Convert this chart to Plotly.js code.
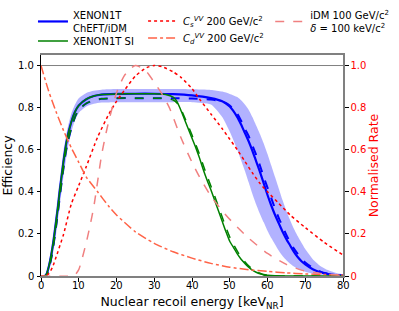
<!DOCTYPE html>
<html><head><meta charset="utf-8">
<script src="https://cdn.plot.ly/plotly-3.0.1.min.js"></script>
<style>html,body{margin:0;padding:0;background:#fff}#chart{width:399px;height:311px}</style>
</head><body><div id="chart"></div>
<script>
// Efficiency curves (XENON1T SI)
const E_si = [0,1,1.5,2,2.5,3,3.5,4,4.5,5,5.5,6,6.5,7,8,9,10,12,14,16,20,25,30,33,35,36,37,38,39,40,41,42,43,44,45,46,47,48,49,50,51,52,53,54,55,56,57,58,59,60,62,65,70,80];
const si_solid = [0,0,0.01,0.04,0.08,0.13,0.19,0.26,0.33,0.41,0.48,0.55,0.61,0.66,0.73,0.78,0.81,0.84,0.855,0.862,0.865,0.866,0.866,0.862,0.85,0.83,0.79,0.745,0.70,0.655,0.61,0.56,0.505,0.455,0.41,0.36,0.31,0.26,0.21,0.165,0.135,0.105,0.08,0.06,0.042,0.028,0.018,0.01,0.005,0.003,0.001,0,0,0];
const si_dashed = [0,0,0.005,0.03,0.065,0.11,0.17,0.235,0.305,0.38,0.45,0.52,0.58,0.63,0.70,0.755,0.79,0.82,0.835,0.842,0.845,0.845,0.845,0.843,0.836,0.822,0.795,0.755,0.713,0.67,0.625,0.577,0.525,0.475,0.428,0.38,0.33,0.28,0.23,0.185,0.15,0.118,0.09,0.068,0.048,0.033,0.022,0.013,0.007,0.004,0.001,0,0,0];

// Efficiency curves (XENON1T ChEFT/iDM)
const E_cheft = [0,1,1.5,2,2.5,3,3.5,4,4.5,5,5.5,6,6.5,7,8,9,10,12,14,16,20,25,30,35,40,45,48,50,52,53,54,55,56,57,58,59,60,61,62,63,64,65,66,67,68,69,70,72,74,76,78,80];
const cheft_solid = [0,0,0.01,0.04,0.08,0.13,0.19,0.26,0.33,0.41,0.48,0.55,0.61,0.66,0.73,0.78,0.81,0.84,0.855,0.862,0.865,0.866,0.866,0.864,0.858,0.845,0.83,0.805,0.755,0.72,0.68,0.64,0.595,0.545,0.495,0.44,0.385,0.335,0.29,0.25,0.21,0.175,0.145,0.115,0.09,0.07,0.055,0.032,0.018,0.009,0.004,0.002];
const cheft_dashed = [0,0,0.005,0.03,0.065,0.11,0.17,0.235,0.305,0.38,0.45,0.52,0.58,0.63,0.70,0.755,0.79,0.82,0.835,0.842,0.845,0.845,0.845,0.845,0.843,0.838,0.83,0.81,0.77,0.738,0.70,0.665,0.62,0.575,0.525,0.47,0.42,0.37,0.32,0.275,0.235,0.195,0.16,0.13,0.105,0.082,0.064,0.038,0.021,0.011,0.005,0.002];
const cheft_upper = [0,0.003,0.02,0.06,0.11,0.17,0.24,0.31,0.39,0.46,0.53,0.60,0.65,0.70,0.77,0.815,0.845,0.87,0.88,0.885,0.888,0.888,0.888,0.888,0.887,0.884,0.876,0.865,0.85,0.835,0.815,0.79,0.755,0.715,0.675,0.63,0.58,0.525,0.47,0.415,0.36,0.31,0.265,0.225,0.19,0.158,0.128,0.08,0.048,0.028,0.015,0.007];
const cheft_lower = [0,0,0.003,0.02,0.05,0.09,0.14,0.2,0.27,0.34,0.41,0.48,0.54,0.6,0.68,0.74,0.775,0.805,0.818,0.824,0.826,0.826,0.826,0.826,0.826,0.815,0.755,0.685,0.60,0.55,0.50,0.445,0.39,0.34,0.295,0.255,0.215,0.18,0.15,0.12,0.095,0.075,0.058,0.045,0.034,0.026,0.02,0.011,0.006,0.003,0.001,0];

// Normalised rates
const E_cs = [0,1,2,3,4,6,8,10,12,15,18,20,22,25,28,30,32,35,37,40,42,45,48,50,52,54,56,58,60,63,66,70,75,80];
const rate_cs = [0,0,0.01,0.04,0.09,0.2,0.34,0.43,0.52,0.66,0.77,0.83,0.88,0.95,0.99,1.0,0.995,0.97,0.945,0.89,0.84,0.77,0.70,0.65,0.60,0.545,0.49,0.44,0.40,0.345,0.29,0.23,0.16,0.10];
const E_cd = [0,2,4,6,8,10,12,15,18,20,25,30,35,40,45,50,55,60,65,70,75,80];
const rate_cd = [1.0,0.88,0.78,0.69,0.61,0.54,0.47,0.40,0.33,0.29,0.21,0.155,0.115,0.085,0.06,0.042,0.03,0.022,0.015,0.01,0.007,0.005];
const E_idm = [0,8,9,10,11,12,13,14,15,16,17,18,20,22,24,25,26,28,30,32,34,37,40,42,45,48,51,55,60,65,69,75,80];
const rate_idm = [0,0,0.005,0.03,0.09,0.16,0.24,0.33,0.45,0.57,0.66,0.74,0.87,0.95,0.99,1.0,0.995,0.97,0.92,0.866,0.8,0.66,0.54,0.47,0.38,0.31,0.25,0.18,0.107,0.055,0.028,0.01,0.003];

const xTicks = [0,10,20,30,40,50,60,70,80];
const yTicks = [0,0.2,0.4,0.6,0.8,1.0];
const yTickText = ['0','0.2','0.4','0.6','0.8','1.0'];

const FONT = 'DejaVu Sans, sans-serif';
const sp = {shape:'spline', smoothing:0.6};
const hiddenTick = {family:FONT, size:10, color:'rgba(0,0,0,0)'};
const labelFont = {family:FONT, size:10, color:'#000'};

const traces = [
  {x:E_cheft, y:cheft_lower, mode:'lines', line:{width:0, ...sp}, showlegend:false, hoverinfo:'skip'},
  {x:E_cheft, y:cheft_upper, mode:'lines', line:{width:0, ...sp}, fill:'tonexty', fillcolor:'rgba(0,0,255,0.3)', showlegend:false, hoverinfo:'skip'},
  {x:E_cheft, y:cheft_solid, mode:'lines', name:'XENON1T<br>ChEFT/iDM', line:{color:'#0000ff', width:2.2, ...sp}, legend:'legend'},
  {x:E_cheft, y:cheft_dashed, mode:'lines', line:{color:'#0000ff', width:2, dash:'dash', ...sp}, showlegend:false},
  {x:E_si, y:si_solid, mode:'lines', name:'XENON1T SI', line:{color:'#008000', width:1.5, ...sp}, legend:'legend4'},
  {x:E_si, y:si_dashed, mode:'lines', line:{color:'#008000', width:1.5, dash:'dash', ...sp}, showlegend:false},
  {x:E_cs, y:rate_cs, mode:'lines', yaxis:'y2', name:'<i>C</i><sub><i>s</i></sub><sup><i>VV</i></sup> 200 GeV/c<sup>2</sup>', line:{color:'#ff0000', width:1.5, dash:'dot', ...sp}, legend:'legend2'},
  {x:E_cd, y:rate_cd, mode:'lines', yaxis:'y2', name:'<i>C</i><sub><i>d</i></sub><sup><i>VV</i></sup> 200 GeV/c<sup>2</sup>', line:{color:'#ff6347', width:1.5, dash:'dashdot', ...sp}, legend:'legend5'},
  {x:E_idm, y:rate_idm, mode:'lines', yaxis:'y2', name:'iDM 100 GeV/c<sup>2</sup><br><i>δ</i> = 100 keV/c<sup>2</sup>', line:{color:'#f08080', width:1.5, dash:'dash', ...sp}, legend:'legend3'}
];

// Tick labels of the bottom and left axes, placed through the axes' own scales
const tickAnnotations = [
  ...xTicks.map(v => ({x:v, xref:'x', y:0, yref:'paper', yanchor:'middle', xanchor:'center', yshift:-9.5, showarrow:false, text:String(v), font:labelFont})),
  ...yTicks.map((v, i) => ({x:0, xref:'paper', y:v, yref:'y', xanchor:'right', yanchor:'middle', xshift:-5, showarrow:false, text:yTickText[i], font:labelFont}))
];

const legendBase = {orientation:'v', traceorder:'normal', xanchor:'left', yanchor:'top', bgcolor:'rgba(0,0,0,0)', font:{family:FONT, size:10, color:'#000'}, tracegroupgap:0};

const layout = {
  width:399, height:311,
  margin:{l:41, r:56, t:55, b:35, autoexpand:false},
  paper_bgcolor:'#fff', plot_bgcolor:'#fff',
  font:{family:FONT, size:10, color:'#000'},
  xaxis:{range:[0,80], tickmode:'array', tickvals:xTicks, ticktext:xTicks.map(String), tickfont:hiddenTick, ticks:'outside', ticklen:3.5, tickcolor:'#000', showgrid:false, zeroline:false,
         showline:true, linecolor:'#808080', linewidth:2, mirror:true,
         title:{text:'Nuclear recoil energy [keV<sub>NR</sub>]', font:{family:FONT, size:12.5, color:'#000'}}},
  yaxis:{range:[0,1.05], tickmode:'array', tickvals:yTicks, ticktext:yTickText, tickfont:hiddenTick, ticks:'outside', ticklen:3.5, tickcolor:'#000', showgrid:false, zeroline:false,
         showline:true, linecolor:'#000', linewidth:1,
         title:{text:'Efficiency', font:{family:FONT, size:12.5, color:'#000'}}},
  yaxis2:{range:[0,1.05], overlaying:'y', side:'right', tickmode:'array', tickvals:yTicks, ticktext:yTickText, ticks:'outside', ticklen:3.5, tickcolor:'#000',
          tickfont:{family:FONT, size:10, color:'#ff0000'}, showgrid:false, zeroline:false, showline:true, linecolor:'#808080', linewidth:2,
          title:{text:'Normalised Rate', font:{family:FONT, size:12.5, color:'#ff0000'}, standoff:2}},
  shapes:[{type:'line', xref:'paper', yref:'y', x0:0, x1:1, y0:1, y1:1, line:{color:'#808080', width:1}, layer:'below'}],
  annotations:tickAnnotations,
  legend:{...legendBase, x:-0.0266, y:1.24},
  legend4:{...legendBase, x:-0.0266, y:1.129},
  legend2:{...legendBase, x:0.338, y:1.2195},
  legend5:{...legendBase, x:0.338, y:1.1425},
  legend3:{...legendBase, x:0.759, y:1.24},
  showlegend:true
};

Plotly.newPlot('chart', traces, layout, {displayModeBar:false, staticPlot:true});
</script></body></html>
